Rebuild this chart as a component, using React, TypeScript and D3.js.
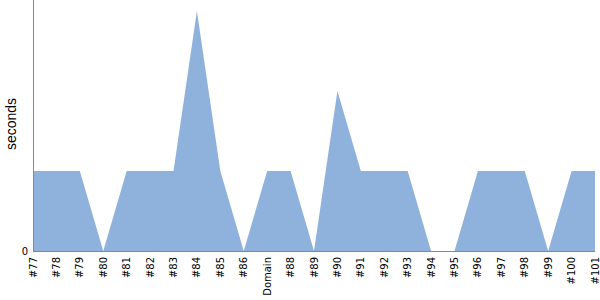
import React from "react";
import * as d3 from "d3";

const categories = ["#77","#78","#79","#80","#81","#82","#83","#84","#85","#86","Domain","#88","#89","#90","#91","#92","#93","#94","#95","#96","#97","#98","#99","#100","#101"];
const values = [1,1,1,0,1,1,1,3,1,0,1,1,0,2,1,1,1,0,0,1,1,1,0,1,1];
const yTicks = [0];

const FONT = "'DejaVu Sans', sans-serif";

export default function App() {
  const W = 600, H = 300;
  const left = 33, right = 595, top = 0, bottom = 251;
  const x = d3.scalePoint<string>().domain(categories).range([left, right]);
  const y = d3.scaleLinear().domain([0, 3.1375]).range([bottom, top]);
  const data = categories.map((c, i) => ({ c, v: values[i] }));
  const area = d3.area<{ c: string; v: number }>()
    .x(d => x(d.c)!)
    .y0(y(0))
    .y1(d => y(d.v));
  return (
    <svg width={W} height={H} style={{ position: "absolute", left: 0, top: 0 }}>
      <path d={area(data)!} fill="#8fb2dc" />
      <line x1={left + 0.5} x2={left + 0.5} y1={top} y2={bottom} stroke="#888" strokeWidth={1} />
      <line x1={left} x2={right} y1={bottom + 0.5} y2={bottom + 0.5} stroke="#888" strokeWidth={1} />
      {yTicks.map(t => (
        <text key={t} x={left - 5} y={y(t)} dy="0.35em" textAnchor="end" fontSize={10} fontFamily={FONT} fill="#000">{t}</text>
      ))}
      {categories.map(c => (
        <text key={c} transform={`translate(${x(c)},${bottom + 6}) rotate(-90)`} dy="0.35em" textAnchor="end" fontSize={10} fontFamily={FONT} fill="#000">{c}</text>
      ))}
      <text transform={`translate(15.5,124) rotate(-90)`} textAnchor="middle" fontSize={14} fontFamily="'Liberation Sans', Arial, sans-serif" fill="#000">seconds</text>
    </svg>
  );
}
